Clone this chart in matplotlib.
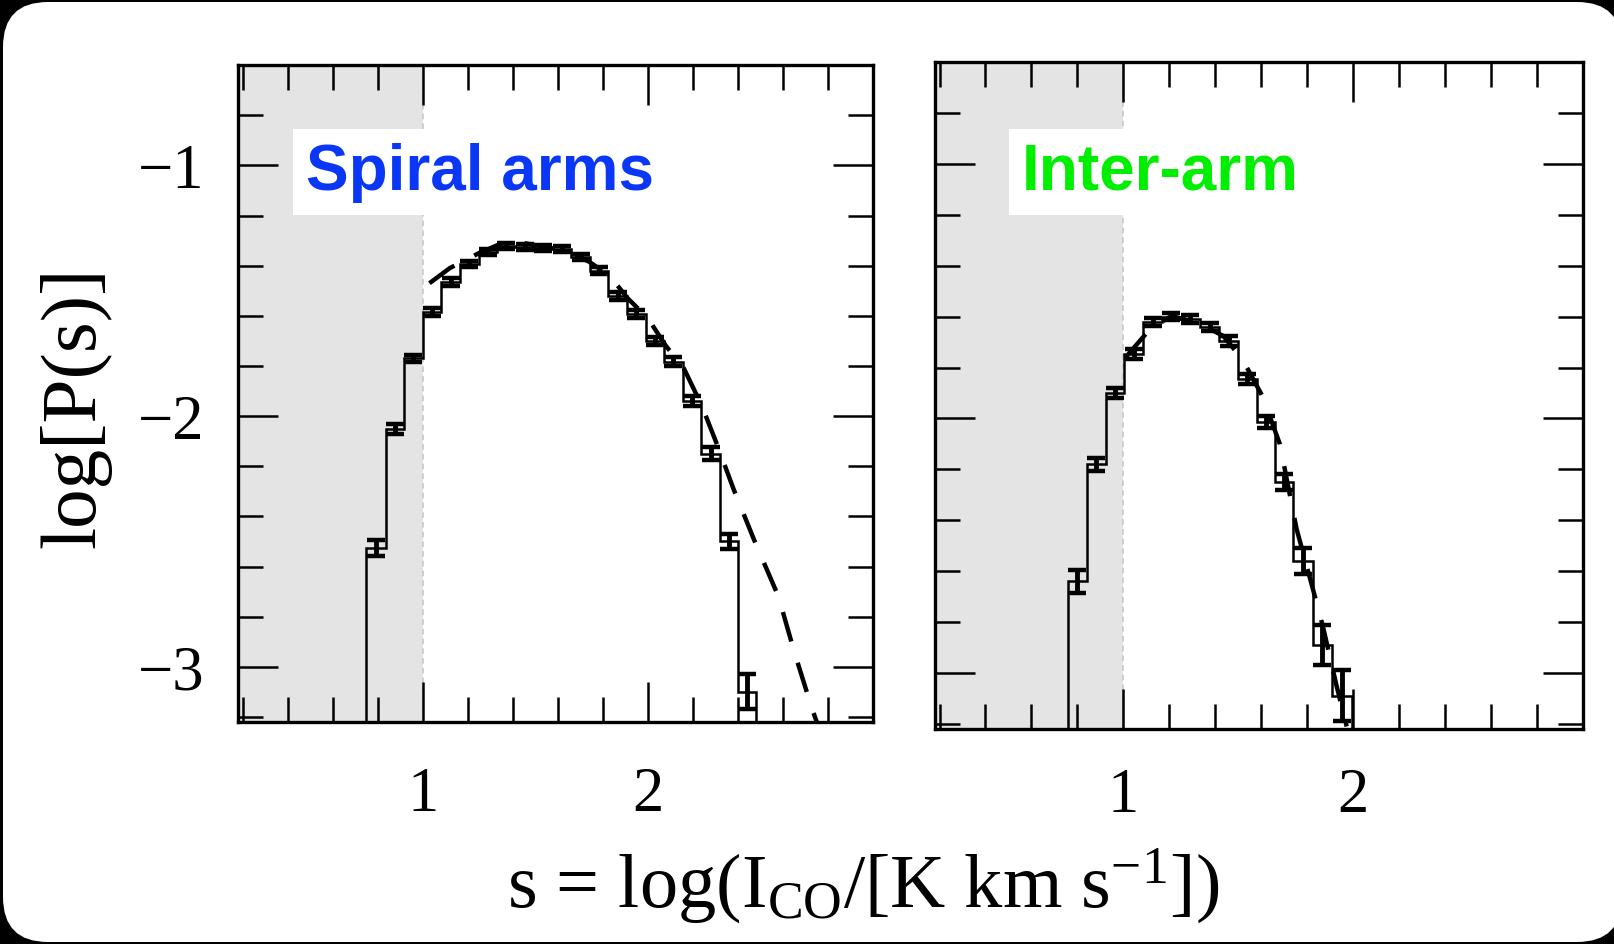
import matplotlib
matplotlib.use('Agg')
import matplotlib.pyplot as plt
from matplotlib.patches import FancyBboxPatch
from matplotlib.transforms import IdentityTransform
from matplotlib.ticker import FixedLocator, MultipleLocator

plt.rcParams['font.family'] = ['Liberation Serif', 'DejaVu Serif']
plt.rcParams['mathtext.fontset'] = 'custom'
plt.rcParams['mathtext.rm'] = 'Liberation Serif'
plt.rcParams['mathtext.it'] = 'Liberation Serif:italic'
plt.rcParams['lines.scale_dashes'] = False

# spiral arms: histogram of s = log(I_CO) and lognormal fit
arm_edges = [0.75, 0.835, 0.918, 1.0, 1.083, 1.165, 1.248, 1.33, 1.412, 1.495, 1.577,
             1.66, 1.742, 1.825, 1.907, 1.99, 2.072, 2.155, 2.237, 2.32, 2.40, 2.482]
arm_logp = [-2.526, -2.05, -1.77, -1.585, -1.465, -1.393, -1.346, -1.322, -1.326, -1.33,
            -1.334, -1.366, -1.42, -1.52, -1.593, -1.70, -1.784, -1.94, -2.15, -2.50, -3.10]
arm_err = [0.03, 0.02, 0.015, 0.015, 0.015, 0.012, 0.012, 0.012, 0.012, 0.012, 0.012,
           0.012, 0.015, 0.015, 0.015, 0.015, 0.018, 0.02, 0.025, 0.03, 0.07]
arm_fit_s = [1.03, 1.12, 1.25, 1.34, 1.45, 1.51, 1.64, 1.74, 1.83, 1.91, 2.00, 2.08,
             2.16, 2.24, 2.31, 2.38, 2.47, 2.58, 2.65, 2.73, 2.75]
arm_fit_logp = [-1.47, -1.41, -1.35, -1.315, -1.31, -1.32, -1.34, -1.385, -1.44, -1.53,
                -1.61, -1.72, -1.81, -1.96, -2.12, -2.29, -2.49, -2.72, -2.94, -3.17, -3.22]

# inter-arm
inter_edges = [0.76, 0.84, 0.925, 1.005, 1.087, 1.167, 1.248, 1.333, 1.418, 1.50, 1.58,
               1.66, 1.74, 1.825, 1.908, 1.995]
inter_logp = [-2.64, -2.18, -1.90, -1.747, -1.62, -1.60, -1.61, -1.64, -1.695, -1.845,
              -2.014, -2.25, -2.56, -2.89, -3.09]
inter_err = [0.045, 0.025, 0.02, 0.02, 0.015, 0.015, 0.015, 0.015, 0.02, 0.02, 0.025,
             0.03, 0.05, 0.08, 0.10]
inter_fit_s = [1.01, 1.116, 1.209, 1.322, 1.435, 1.52, 1.605, 1.681, 1.754, 1.825, 1.868,
               1.928, 1.972]
inter_fit_logp = [-1.76, -1.649, -1.598, -1.623, -1.676, -1.77, -1.912, -2.10, -2.434,
                  -2.67, -2.815, -3.05, -3.21]

XLIM = (0.18, 3.0)
YLIM = (-3.22, -0.6)
SHADE_MAX = 1.0

fig = plt.figure(figsize=(16.15, 9.45), dpi=100, facecolor='black')
fig.add_artist(FancyBboxPatch((3, 2), 1619, 940, boxstyle='round,pad=0,rounding_size=45',
                              transform=IdentityTransform(), facecolor='white',
                              edgecolor='none', zorder=-10))

ax1 = fig.add_axes([0.1474, 0.2349, 0.3932, 0.6952])
ax2 = fig.add_axes([0.5789, 0.2275, 0.4012, 0.7058])


def draw_panel(ax, edges, logp, err, fit_s, fit_logp, xpad):
    ax.set_xlim(*XLIM)
    ax.set_ylim(*YLIM)
    ax.axvspan(XLIM[0], SHADE_MAX, color='#e4e4e4', lw=0, zorder=0)
    ax.axvline(SHADE_MAX, color='#c8c8c8', lw=1.2, ls=(0, (4, 3)), zorder=0.5)
    ax.stairs(logp, edges, baseline=-5, color='k', lw=1.8, zorder=3)
    centers = [(a + b) / 2 for a, b in zip(edges[:-1], edges[1:])]
    ax.errorbar(centers, logp, yerr=err, fmt='none', ecolor='k', elinewidth=3.5,
                capsize=6.5, capthick=3.2, zorder=4)
    ax.plot(fit_s, fit_logp, color='k', lw=3.2, dashes=(22, 16), zorder=5)

    ax.xaxis.set_major_locator(FixedLocator([1, 2]))
    ax.xaxis.set_minor_locator(MultipleLocator(0.2))
    ax.yaxis.set_major_locator(FixedLocator([-3, -2, -1]))
    ax.yaxis.set_minor_locator(MultipleLocator(0.2))
    ax.tick_params(which='both', direction='in', top=True, right=True, width=1.8)
    ax.tick_params(which='major', length=29, labelsize=45)
    ax.tick_params(which='minor', length=18)
    ax.tick_params(axis='x', which='major', pad=xpad)
    ax.tick_params(axis='y', which='major', pad=24)
    for sp in ax.spines.values():
        sp.set_linewidth(2.4)


draw_panel(ax1, arm_edges, arm_logp, arm_err, arm_fit_s, arm_fit_logp, 32)
draw_panel(ax2, inter_edges, inter_logp, inter_err, inter_fit_s, inter_fit_logp, 27)
ax2.tick_params(axis='y', labelleft=False)

box = dict(boxstyle='square,pad=0.2', fc='white', ec='none')
fig.text(306 / 1615, 1 - 190 / 945, 'Spiral arms', family=['Liberation Sans', 'DejaVu Sans'],
         weight='bold', fontsize=46, color='#0a37f5', ha='left', va='baseline', bbox=box,
         zorder=10)
fig.text(1022 / 1615, 1 - 190 / 945, 'Inter-arm', family=['Liberation Sans', 'DejaVu Sans'],
         weight='bold', fontsize=46, color='#00ee00', ha='left', va='baseline', bbox=box,
         zorder=10)

fig.text(75 / 1615, 1 - 407 / 945, 'log[P(s)]', fontsize=57, rotation=90,
         ha='center', va='center')
fig.text(863 / 1615, 1 - 886 / 945, r's = log(I$_{\mathrm{CO}}$/[K km s$^{-1}$])',
         fontsize=55, ha='center', va='center')

fig.savefig('out.png', dpi=100, facecolor='black')
